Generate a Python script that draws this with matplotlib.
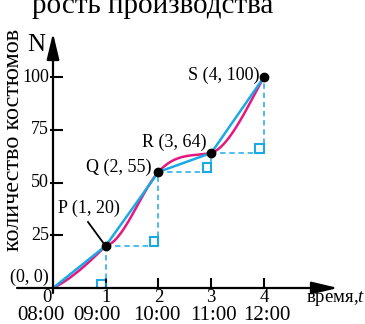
import matplotlib.pyplot as plt
from matplotlib.patches import Rectangle
import numpy as np

plt.rcParams['font.family'] = ['Liberation Serif', 'DejaVu Serif']
plt.rcParams['mathtext.fontset'] = 'custom'
plt.rcParams['mathtext.it'] = 'Liberation Serif:italic'
plt.rcParams['mathtext.rm'] = 'Liberation Serif'

# data
t_points = [0, 1, 2, 3, 4]
n_points = [0, 20, 55, 64, 100]
point_names = ['', 'P', 'Q', 'R', 'S']
# slopes of the smooth (magenta) curve at start / end of each segment
slope_start = [12, 5, 28, 8]
slope_end = [25, 28, 5, 45]
y_ticks = [25, 50, 75, 100]
x_ticks = [0, 1, 2, 3, 4]
time_labels = ['08:00', '09:00', '10:00', '11:00', '12:00']

BLUE = '#1BA9E6'
PINK = '#E6177F'

W, H = 365, 324
fig = plt.figure(figsize=(W / 100, H / 100), dpi=100)
ax = fig.add_axes([0, 0, 1, 1])

# pixel mapping of the reference (x=0 at px 53, 52.75 px/unit; y=0 at px 288, 2.11 px/unit)
x0, sx = 53, 52.75
y0, sy = 288, 2.11
ax.set_xlim(-x0 / sx, (W - x0) / sx)
ax.set_ylim(-(H - y0) / sy, y0 / sy)
ax.axis('off')


def px(x):
    return (x - x0) / sx


def py(y):
    return (y0 - y) / sy


# axes with arrows
ax.annotate('', xy=(px(338), 0), xytext=(px(17), 0),
            arrowprops=dict(arrowstyle='-|>,head_length=1.6,head_width=0.38',
                            mutation_scale=10, lw=1.6, color='black', shrinkA=0, shrinkB=0))
ax.annotate('', xy=(0, py(33)), xytext=(0, py(293)),
            arrowprops=dict(arrowstyle='-|>,head_length=1.6,head_width=0.38',
                            mutation_scale=10, lw=1.6, color='black', shrinkA=0, shrinkB=0))

# ticks
for yt in y_ticks:
    ax.plot([px(50), px(63)], [yt, yt], color='black', lw=1.5, solid_capstyle='butt')
    ax.text(px(49), yt, str(yt), ha='right', va='center', fontsize=13)
for xt in x_ticks[1:]:
    ax.plot([xt, xt], [0, py(278)], color='black', lw=1.5, solid_capstyle='butt')
for xt in x_ticks:
    xx = px(47) if xt == 0 else xt
    ax.text(xx, py(297), str(xt), ha='center', va='center', fontsize=13.5)
time_shift = [-0.23, -0.17, -0.04, 0.04, 0.05]
for xt, lab, dx in zip(x_ticks, time_labels, time_shift):
    ax.text(xt + dx, py(315), lab, ha='center', va='center', fontsize=15)

# dashed slope triangles and right-angle marks
for i in range(len(t_points) - 1):
    ta, tb = t_points[i], t_points[i + 1]
    na, nb = n_points[i], n_points[i + 1]
    if i > 0:
        ax.plot([ta, tb], [na, na], color=BLUE, lw=1.1, ls=(0, (3.5, 2.5)))
    ax.plot([tb, tb], [na, nb], color=BLUE, lw=1.1, ls=(0, (3.5, 2.5)))
    ax.add_patch(Rectangle((tb - 8.5 / sx, na), 8.5 / sx, 8.5 / sy, fill=False,
                           edgecolor=BLUE, lw=1.5))

# smooth curve (cubic hermite between the points)
for i in range(len(t_points) - 1):
    ta, tb = t_points[i], t_points[i + 1]
    na, nb = n_points[i], n_points[i + 1]
    h = tb - ta
    s = np.linspace(0, 1, 60)
    h00 = 2 * s**3 - 3 * s**2 + 1
    h10 = s**3 - 2 * s**2 + s
    h01 = -2 * s**3 + 3 * s**2
    h11 = s**3 - s**2
    nn = h00 * na + h10 * h * slope_start[i] + h01 * nb + h11 * h * slope_end[i]
    ax.plot(ta + s * h, nn, color=PINK, lw=1.8, solid_capstyle='round')

# straight polyline
ax.plot(t_points, n_points, color=BLUE, lw=1.8)

# points
ax.plot(t_points[1:], n_points[1:], 'o', color='black', ms=6, zorder=5)

# point labels
ax.text(px(10), py(277), '(0, 0)', ha='left', va='center', fontsize=13)
ax.text(px(58), py(208), f'{point_names[1]} ({t_points[1]}, {n_points[1]})', ha='left', va='center', fontsize=13)
ax.plot([px(88), t_points[1] - 0.05], [py(222), n_points[1] + 1.5], color='black', lw=1.3)
ax.text(px(152), py(167), f'{point_names[2]} ({t_points[2]}, {n_points[2]})', ha='right', va='center', fontsize=13)
ax.text(px(207), py(142), f'{point_names[3]} ({t_points[3]}, {n_points[3]})', ha='right', va='center', fontsize=13)
ax.text(px(260), py(75), f'{point_names[4]} ({t_points[4]}, {n_points[4]})', ha='right', va='center', fontsize=13)

# axis names
ax.text(px(45), py(45), 'N', ha='right', va='center', fontsize=18)
ax.text(px(365), py(299), 'время,$t$', ha='right', va='center', fontsize=13.5)
ax.text(px(14), py(140), 'количество костюмов', rotation=90, ha='center', va='center', fontsize=17.5)

# clipped title at the top
ax.text(px(32), py(13), 'рость производства', ha='left', va='baseline', fontsize=21)

fig.savefig('out.png', dpi=100)
